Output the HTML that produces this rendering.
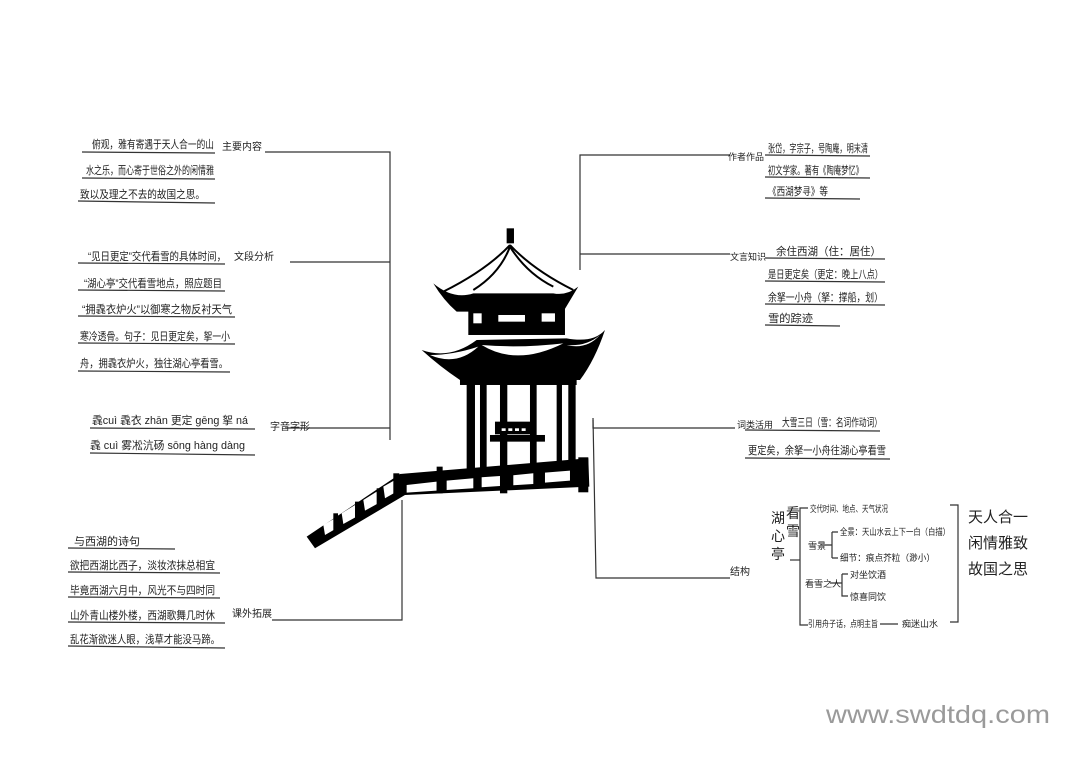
<!DOCTYPE html>
<html><head><meta charset="utf-8"><style>
html,body{margin:0;padding:0;background:#fff;}
svg{display:block;}
text{font-family:"Liberation Sans","Noto Sans CJK SC",sans-serif;fill:#222;}
</style></head><body>
<svg width="1080" height="758" viewBox="0 0 1080 758" xmlns="http://www.w3.org/2000/svg" font-size="11">
<g stroke="#333" stroke-width="1.2" fill="none">
<path d="M265,152 L390,152 L390,440"/>
<path d="M290,262 L390,262"/>
<path d="M285,428 L390,428"/>
<path d="M272,620 L402,620 L402,500"/>
<path d="M730,155 L580,155 L580,270"/>
<path d="M580,254 L730,254"/>
<path d="M735,428 L593,428 L593,420"/>
<path d="M593,418 L596,578 L730,578"/>
<path d="M82,152 L215,153 M82,178 L215,179 M78,201 L215,203"/>
<path d="M78,263 L225,264 M78,290 L225,291 M78,316 L235,317 M78,343 L235,344 M78,371 L230,372"/>
<path d="M90,428 L255,429 M90,453 L255,455"/>
<path d="M68,548 L175,549 M68,572 L220,573 M68,597 L220,598 M68,622 L225,623 M68,646 L225,648"/>
<path d="M765,155 L870,156 M765,177 L870,178 M765,198 L860,199"/>
<path d="M765,258 L885,259 M765,281 L885,282 M765,304 L885,305 M765,325 L840,326"/>
<path d="M745,430 L880,431 M745,458 L890,459"/>
<path d="M808,508 L800,508 L800,625 L808,625"/>
<path d="M790,560 L800,560"/>
<path d="M820,545 L832,545 M832,532 L832,558 M832,532 L838,532 M832,558 L838,558"/>
<path d="M830,583 L842,583 M842,574 L848,574 M842,574 L842,596 L848,596"/>
<path d="M880,624 L898,624"/>
<path d="M950,505 L958,505 L958,622 L950,622"/>
</g>
<text x="92" y="148" textLength="122" lengthAdjust="spacingAndGlyphs">俯观，雅有寄遇于天人合一的山</text>
<text x="86" y="174" textLength="128" lengthAdjust="spacingAndGlyphs">水之乐，而心寄于世俗之外的闲情雅</text>
<text x="80" y="198" textLength="125" lengthAdjust="spacingAndGlyphs">致以及理之不去的故国之思。</text>
<text x="222" y="150" font-size="10">主要内容</text>
<text x="88" y="260" textLength="138" lengthAdjust="spacingAndGlyphs">“见日更定”交代看雪的具体时间，</text>
<text x="234" y="260" font-size="10">文段分析</text>
<text x="84" y="287" textLength="138" lengthAdjust="spacingAndGlyphs">“湖心亭”交代看雪地点，照应题目</text>
<text x="82" y="313" textLength="150" lengthAdjust="spacingAndGlyphs">“拥毳衣炉火”以御寒之物反衬天气</text>
<text x="80" y="340" textLength="150" lengthAdjust="spacingAndGlyphs">寒冷透骨。句子：见日更定矣，挐一小</text>
<text x="80" y="367" textLength="148" lengthAdjust="spacingAndGlyphs">舟，拥毳衣炉火，独往湖心亭看雪。</text>
<text x="92" y="424" textLength="156" lengthAdjust="spacingAndGlyphs">毳cuì 毳衣 zhān 更定 gēng 挐 ná</text>
<text x="90" y="449" textLength="155" lengthAdjust="spacingAndGlyphs">毳 cuì 雾凇沆砀 sōng hàng dàng</text>
<text x="270" y="430" font-size="10">字音字形</text>
<text x="74" y="545">与西湖的诗句</text>
<text x="70" y="569" textLength="145" lengthAdjust="spacingAndGlyphs">欲把西湖比西子，淡妆浓抹总相宜</text>
<text x="70" y="594" textLength="145" lengthAdjust="spacingAndGlyphs">毕竟西湖六月中，风光不与四时同</text>
<text x="70" y="619" textLength="145" lengthAdjust="spacingAndGlyphs">山外青山楼外楼，西湖歌舞几时休</text>
<text x="70" y="643" textLength="150" lengthAdjust="spacingAndGlyphs">乱花渐欲迷人眼，浅草才能没马蹄。</text>
<text x="232" y="617" font-size="10">课外拓展</text>
<text x="728" y="160" font-size="9">作者作品</text>
<text x="768" y="152" textLength="100" lengthAdjust="spacingAndGlyphs">张岱，字宗子，号陶庵，明末清</text>
<text x="768" y="174" textLength="95" lengthAdjust="spacingAndGlyphs">初文学家。著有《陶庵梦忆》</text>
<text x="768" y="195" textLength="60" lengthAdjust="spacingAndGlyphs">《西湖梦寻》等</text>
<text x="730" y="260" font-size="9">文言知识</text>
<text x="776" y="255" textLength="105" lengthAdjust="spacingAndGlyphs">余住西湖（住：居住）</text>
<text x="768" y="278" textLength="115" lengthAdjust="spacingAndGlyphs">是日更定矣（更定：晚上八点）</text>
<text x="768" y="301" textLength="115" lengthAdjust="spacingAndGlyphs">余拏一小舟（拏：撑船，划）</text>
<text x="768" y="322" textLength="45" lengthAdjust="spacingAndGlyphs">雪的踪迹</text>
<text x="737" y="428" font-size="9">词类活用</text>
<text x="782" y="426" textLength="100" lengthAdjust="spacingAndGlyphs">大雪三日（雪：名词作动词）</text>
<text x="748" y="454" textLength="138" lengthAdjust="spacingAndGlyphs">更定矣，余拏一小舟往湖心亭看雪</text>
<text x="730" y="575" font-size="10">结构</text>
<g font-size="14"><text x="771" y="523">湖</text><text x="771" y="541">心</text><text x="771" y="559">亭</text>
<text x="786" y="518">看</text><text x="786" y="536">雪</text></g>
<g font-size="9">
<text x="810" y="512" textLength="78" lengthAdjust="spacingAndGlyphs">交代时间、地点、天气状况</text>
<text x="808" y="549">雪景</text>
<text x="840" y="535" textLength="110" lengthAdjust="spacingAndGlyphs">全景：天山水云上下一白（白描）</text>
<text x="840" y="561" textLength="95" lengthAdjust="spacingAndGlyphs">细节：痕点芥粒（渺小）</text>
<text x="805" y="587">看雪之人</text>
<text x="850" y="578">对坐饮酒</text>
<text x="850" y="600">惊喜同饮</text>
<text x="808" y="627" textLength="70" lengthAdjust="spacingAndGlyphs">引用舟子话，点明主旨</text>
<text x="902" y="627">痴迷山水</text>
</g>
<g font-size="15"><text x="968" y="522">天人合一</text><text x="968" y="548">闲情雅致</text><text x="968" y="574">故国之思</text></g>
<g transform="translate(300,220) scale(0.3333)">
<rect x="620" y="25" width="22" height="45" fill="#000"/>
<path d="M630,75 Q560,150 430,215 M630,75 Q700,150 820,210 M630,80 Q600,160 520,210 M630,80 Q680,160 760,200" stroke="#000" stroke-width="6" fill="none"/>
<path d="M400,190 Q460,240 520,220 L760,220 Q800,228 835,200 Q805,250 790,275 L470,275 Q430,240 400,190Z" fill="#000"/>
<rect x="505" y="265" width="290" height="80" fill="#000"/>
<rect x="520" y="280" width="25" height="30" fill="#fff"/>
<rect x="595" y="285" width="80" height="20" fill="#fff"/>
<rect x="725" y="280" width="40" height="25" fill="#fff"/>
<path d="M365,390 Q450,420 530,360 L800,355 Q880,370 915,330 Q885,420 840,480 L480,480 Q420,440 365,390Z" fill="#000"/>
<path d="M390,405 Q470,440 535,380 Q460,405 390,405Z M545,375 Q650,440 790,370 Q660,385 545,375Z M800,375 Q860,390 900,345 Q860,380 800,375Z" fill="#fff"/>
<rect x="480" y="470" width="350" height="25" fill="#000"/>
<g fill="#000">
<rect x="500" y="490" width="25" height="260"/><rect x="540" y="490" width="20" height="260"/>
<rect x="600" y="490" width="22" height="330"/><rect x="690" y="490" width="20" height="300"/>
<rect x="770" y="490" width="16" height="260"/><rect x="805" y="490" width="22" height="260"/>
<rect x="585" y="605" width="115" height="38"/><rect x="570" y="645" width="165" height="20"/>
</g>
<g fill="#fff"><rect x="605" y="625" width="12" height="8"/><rect x="625" y="625" width="12" height="8"/><rect x="645" y="625" width="12" height="8"/><rect x="665" y="625" width="12" height="8"/></g>
<path d="M865,715 L300,762 L20,950 L45,985 L315,825 L868,800Z" fill="#000"/>
<g fill="#fff">
<path d="M320,795 L410,785 L410,812 L320,818Z"/>
<path d="M440,782 L520,775 L520,805 L440,810Z"/>
<path d="M545,772 L600,768 L600,798 L545,802Z"/>
<path d="M640,766 L700,760 L700,792 L640,796Z"/>
<path d="M735,758 L810,752 L810,782 L735,788Z"/>
<path d="M250,800 L285,780 L290,815 L255,835Z"/>
<path d="M190,840 L230,815 L235,850 L195,872Z"/>
<path d="M125,880 L165,855 L170,890 L130,912Z"/>
<path d="M70,915 L105,895 L110,925 L75,945Z"/>
</g>
<g fill="#000"><rect x="835" y="712" width="30" height="105"/><rect x="410" y="740" width="18" height="80"/><rect x="280" y="760" width="18" height="70"/><rect x="100" y="880" width="14" height="60"/><rect x="165" y="845" width="14" height="55"/><rect x="230" y="805" width="14" height="55"/></g>
</g>
<text x="826" y="723" font-size="25" textLength="224" lengthAdjust="spacingAndGlyphs" style="fill:#9a9a9a">www.swdtdq.com</text>
</svg>
</body></html>
